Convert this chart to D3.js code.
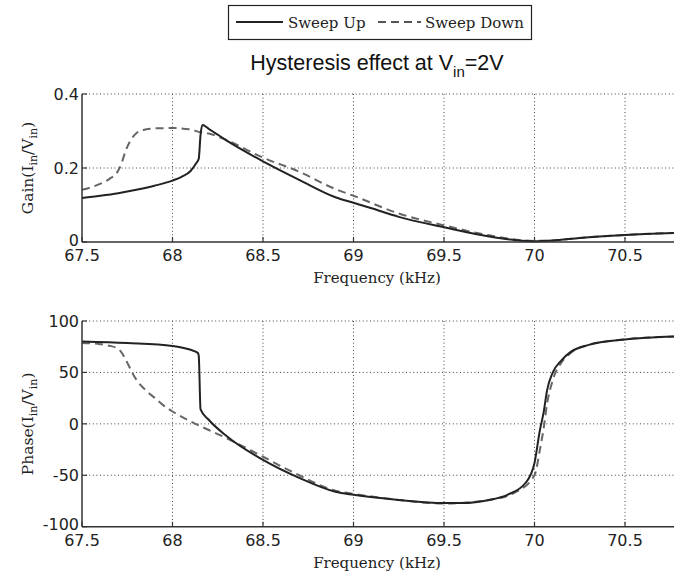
<!DOCTYPE html>
<html>
<head>
<meta charset="utf-8">
<script src="https://cdn.jsdelivr.net/npm/d3@7"></script>
<style>
  html, body { margin: 0; padding: 0; background: #fff; }
  svg { display: block; }
</style>
</head>
<body>
<svg id="chart" width="674" height="578"></svg>
<script>
// ---- Data ----
const xTicks = [67.5, 68, 68.5, 69, 69.5, 70, 70.5];
const xTickLabels = ["67.5", "68", "68.5", "69", "69.5", "70", "70.5"];
const gainTicks = [0, 0.2, 0.4];
const gainTickLabels = ["0", "0.2", "0.4"];
const phaseTicks = [-100, -50, 0, 50, 100];
const phaseTickLabels = ["-100", "-50", "0", "50", "100"];
const seriesNames = ["Sweep Up", "Sweep Down"];

const gainUpFreq = [67.5, 67.6, 67.7, 67.8, 67.9, 68.0, 68.05, 68.1, 68.13, 68.145, 68.155, 68.165, 68.2, 68.3, 68.5, 68.7, 68.9, 69.0, 69.1, 69.25, 69.5, 69.75, 69.9, 70.0, 70.1, 70.25, 70.5, 70.8];
const gainUp     = [0.119, 0.125, 0.132, 0.141, 0.152, 0.166, 0.176, 0.192, 0.212, 0.225, 0.29, 0.316, 0.306, 0.274, 0.218, 0.168, 0.121, 0.106, 0.091, 0.068, 0.040, 0.015, 0.005, 0.002, 0.004, 0.011, 0.019, 0.025];

const gainDownFreq = [67.5, 67.55, 67.6, 67.65, 67.7, 67.72, 67.74, 67.77, 67.8, 67.85, 67.9, 68.0, 68.1, 68.15, 68.2, 68.3, 68.5, 68.7, 68.9, 69.0, 69.25, 69.5, 69.75, 70.0, 70.1, 70.25, 70.5, 70.8];
const gainDown     = [0.141, 0.148, 0.157, 0.170, 0.193, 0.215, 0.245, 0.276, 0.294, 0.304, 0.307, 0.308, 0.304, 0.297, 0.293, 0.275, 0.228, 0.190, 0.143, 0.125, 0.077, 0.045, 0.018, 0.003, 0.004, 0.011, 0.019, 0.025];

const phaseUpFreq = [67.5, 67.75, 68.0, 68.1, 68.14, 68.145, 68.155, 68.2, 68.3, 68.5, 68.7, 68.9, 69.0, 69.25, 69.5, 69.6, 69.75, 69.85, 69.95, 70.0, 70.03, 70.05, 70.07, 70.1, 70.15, 70.2, 70.3, 70.5, 70.8];
const phaseUp     = [80, 78.5, 75.8, 72, 69, 66, 14, 4, -12, -35, -52.5, -66, -69, -74, -77, -77, -74, -69, -57.5, -38, -6, 10.7, 33, 49.6, 62, 70, 76.8, 82, 85];

const phaseDownFreq = [67.5, 67.6, 67.65, 67.7, 67.72, 67.74, 67.76, 67.78, 67.8, 67.85, 67.9, 67.95, 68.0, 68.1, 68.2, 68.3, 68.5, 68.7, 68.9, 69.0, 69.25, 69.5, 69.75, 69.9, 70.0, 70.03, 70.05, 70.07, 70.1, 70.15, 70.2, 70.3, 70.5, 70.8];
const phaseDown     = [78.7, 77.5, 76, 73, 69, 63, 56, 49, 43, 33, 25.5, 18, 12, 2.3, -6, -14, -32, -50, -65, -68, -74, -77.5, -74, -66, -50, -25, -5, 20, 42, 60, 69, 76.8, 82, 85];

// ---- Drawing ----
const svg = d3.select("#chart");
const serif = "'DejaVu Serif', serif";
const sans = "'DejaVu Sans', sans-serif";
const axisColor = "#333";

const x = d3.scaleLinear().domain([67.5, 70.8]).range([82, 679.3]);
const yGain = d3.scaleLinear().domain([0, 0.4]).range([242, 94]);
const yPhase = d3.scaleLinear().domain([-100, 100]).range([526.7, 321]);

// Legend
const lg = svg.append("g");
lg.append("rect").attr("x", 228.5).attr("y", 5.5).attr("width", 303).attr("height", 34)
  .attr("fill", "#fff").attr("stroke", "#222").attr("stroke-width", 1.2);
lg.append("line").attr("x1", 236).attr("x2", 283).attr("y1", 22).attr("y2", 22)
  .attr("stroke", "#222").attr("stroke-width", 1.8);
lg.append("text").attr("x", 288).attr("y", 28).attr("font-family", serif).attr("font-size", 15)
  .attr("fill", "#222").text(seriesNames[0]);
lg.append("line").attr("x1", 378).attr("x2", 421).attr("y1", 22).attr("y2", 22)
  .attr("stroke", "#555").attr("stroke-width", 1.8).attr("stroke-dasharray", "8,5");
lg.append("text").attr("x", 425).attr("y", 28).attr("font-family", serif).attr("font-size", 15)
  .attr("fill", "#222").text(seriesNames[1]);

// Title
const title = svg.append("text").attr("x", 377).attr("y", 70).attr("text-anchor", "middle")
  .attr("font-family", "'Liberation Sans', Arial, sans-serif").attr("font-size", 21.5)
  .attr("fill", "#111");
title.append("tspan").text("Hysteresis effect at V");
title.append("tspan").attr("font-size", 15).attr("dy", 7).text("in");
title.append("tspan").attr("dy", -7).text("=2V");

function panel(yScale, yTicks, yLabels, series, labelMain) {
  const g = svg.append("g");
  const [yb, yt] = yScale.range();
  const x0 = x.range()[0], x1 = x.range()[1];

  // grid
  g.selectAll(".hg").data(yTicks.slice(1)).enter().append("line")
    .attr("x1", x0).attr("x2", x1)
    .attr("y1", d => yScale(d)).attr("y2", d => yScale(d))
    .attr("stroke", "#444").attr("stroke-width", 1).attr("stroke-dasharray", "1,2.6");
  g.selectAll(".vg").data(xTicks.slice(1)).enter().append("line")
    .attr("x1", d => x(d)).attr("x2", d => x(d))
    .attr("y1", yt).attr("y2", yb)
    .attr("stroke", "#444").attr("stroke-width", 1).attr("stroke-dasharray", "1,2.6");

  // curves
  const line = d3.line().x(d => x(d[0])).y(d => yScale(d[1])).curve(d3.curveMonotoneX);
  series.forEach(s => {
    const pts = s.f.map((f, i) => [f, s.v[i]]);
    g.append("path").attr("d", line(pts)).attr("fill", "none")
      .attr("stroke", s.color).attr("stroke-width", s.w)
      .attr("stroke-dasharray", s.dash || null);
  });

  // axes lines
  g.append("line").attr("x1", x0).attr("x2", x0).attr("y1", yt).attr("y2", yb)
    .attr("stroke", axisColor).attr("stroke-width", 1.5);
  g.append("line").attr("x1", x0).attr("x2", x1).attr("y1", yb).attr("y2", yb)
    .attr("stroke", axisColor).attr("stroke-width", 1.5);

  // ticks (inward)
  g.selectAll(".yt").data(yTicks).enter().append("line")
    .attr("x1", x0).attr("x2", x0 + 5)
    .attr("y1", d => yScale(d)).attr("y2", d => yScale(d))
    .attr("stroke", axisColor).attr("stroke-width", 1.2);
  g.selectAll(".xt").data(xTicks).enter().append("line")
    .attr("x1", d => x(d)).attr("x2", d => x(d))
    .attr("y1", yb).attr("y2", yb - 5)
    .attr("stroke", axisColor).attr("stroke-width", 1.2);

  // tick labels
  g.selectAll(".yl").data(yTicks).enter().append("text")
    .attr("x", x0 - 3).attr("y", d => yScale(d)).attr("dy", (d, i) => i === 0 ? "0.22em" : "0.36em")
    .attr("text-anchor", "end").attr("font-family", sans).attr("font-size", 16)
    .attr("fill", "#222").text((d, i) => yLabels[i]);
  g.selectAll(".xl").data(xTicks).enter().append("text")
    .attr("x", d => x(d)).attr("y", yb + 19)
    .attr("text-anchor", "middle").attr("font-family", sans).attr("font-size", 16)
    .attr("fill", "#222").text((d, i) => xTickLabels[i]);

  // x label
  g.append("text").attr("x", 377).attr("y", yb + 41).attr("text-anchor", "middle")
    .attr("font-family", serif).attr("font-size", 15).attr("fill", "#222")
    .text("Frequency (kHz)");

  // y label
  const cy = (yb + yt) / 2;
  const yl = g.append("text").attr("transform", `translate(33,${cy}) rotate(-90)`)
    .attr("text-anchor", "middle").attr("font-family", serif).attr("font-size", 15.5)
    .attr("fill", "#222");
  yl.append("tspan").text(labelMain + "(I");
  yl.append("tspan").attr("font-size", 11).attr("dy", 4).text("in");
  yl.append("tspan").attr("dy", -4).text("/V");
  yl.append("tspan").attr("font-size", 11).attr("dy", 4).text("in");
  yl.append("tspan").attr("dy", -4).text(")");
}

panel(yGain, gainTicks, gainTickLabels, [
  { f: gainDownFreq, v: gainDown, color: "#666", w: 2, dash: "8,5" },
  { f: gainUpFreq, v: gainUp, color: "#222", w: 2 }
], "Gain");

panel(yPhase, phaseTicks, phaseTickLabels, [
  { f: phaseDownFreq, v: phaseDown, color: "#666", w: 2, dash: "8,5" },
  { f: phaseUpFreq, v: phaseUp, color: "#222", w: 2 }
], "Phase");
</script>
</body>
</html>
